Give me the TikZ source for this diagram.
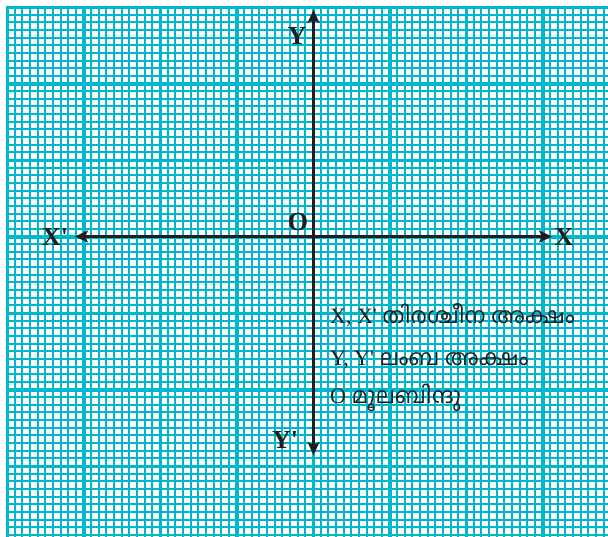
\documentclass[tikz,border=0pt]{standalone}
\usepackage{fontspec}
\setmainfont{Liberation Serif}
\newfontfamily\malfont[Script=Malayalam]{Hind Kochi}
\usetikzlibrary{arrows.meta}
\definecolor{gridc}{RGB}{0,184,206}
\definecolor{axisc}{RGB}{30,30,30}
\tikzset{
  minorline/.style={gridc, line width=1.5pt},
  midline/.style={gridc, line width=2.2pt},
  majorline/.style={gridc, line width=3pt},
  axisline/.style={axisc, line width=2.4pt, {Stealth[length=13pt,width=12pt,inset=3pt]}-{Stealth[length=13pt,width=12pt,inset=3pt]}},
  lab/.style={inner sep=0pt, font=\bfseries\fontsize{26}{26}\selectfont, text=axisc},
  txt/.style={inner sep=0pt, anchor=base west, font=\fontsize{22}{22}\selectfont, text=axisc}
}
\begin{document}
\begin{tikzpicture}[x=1pt,y=-1pt]
\useasboundingbox (0,0) rectangle (608,537);
\fill[white] (0,0) rectangle (608,537);
\begin{scope}
  \clip (5.5,5.5) rectangle (610,540);
  % minor lines
  \foreach \i in {0,...,79}{
    \pgfmathsetmacro\pp{round(7+\i*7.65)}
    \draw[minorline] (\pp,7) -- (\pp,540);
  }
  \foreach \i in {0,...,70}{
    \pgfmathsetmacro\pp{round(7+\i*7.65)}
    \draw[minorline] (7,\pp) -- (610,\pp);
  }
  % medium lines
  \foreach \i in {0,...,15}{
    \pgfmathsetmacro\pp{round(7+\i*38.25)}
    \draw[midline] (\pp,7) -- (\pp,540);
    \draw[midline] (7,\pp) -- (610,\pp);
  }
  % major lines
  \foreach \i in {0,...,7}{
    \pgfmathsetmacro\pp{round(7+\i*76.5)+0.5}
    \draw[majorline] (\pp,6) -- (\pp,540);
    \draw[majorline] (6,\pp) -- (610,\pp);
  }
\end{scope}
% axes
\coordinate (ytop) at (313.5,10);
\coordinate (ybot) at (313.5,455);
\coordinate (xl) at (75,236.5);
\coordinate (xr) at (552,236.5);
\draw[axisline] (ybot) -- (ytop);
\draw[axisline] (xl) -- (xr);
% axis labels
\node[lab] (Y) at (297,36) {Y};
\node[lab] (Xp) at (55,237) {X\textquotesingle};
\node[lab] (X) at (564,237) {X};
\node[lab] (Yp) at (285,440) {Y\textquotesingle};
\node[lab] (O) at (298,222) {O};
% legend
\node[txt] (t1) at (330,324) {X, X\textquotesingle\ {\malfont തിരശ്ചീന അക്ഷം}};
\node[txt] (t2) at (330,366) {Y, Y\textquotesingle\ {\malfont ലംബ അക്ഷം}};
\node[txt] (t3) at (330,403) {O {\malfont മൂലബിന്ദു}};
\end{tikzpicture}
\end{document}
